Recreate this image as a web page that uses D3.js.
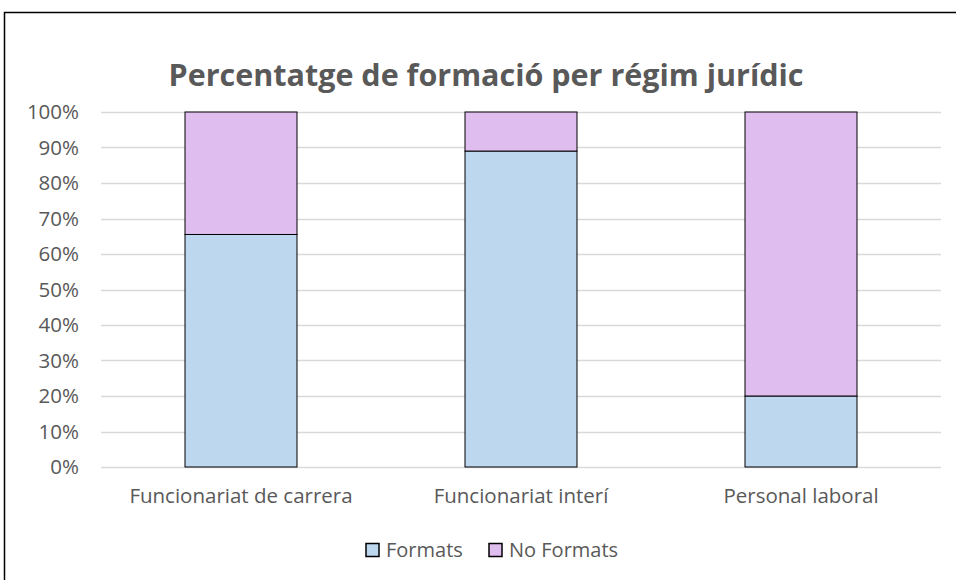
<!DOCTYPE html>
<html>
<head>
<meta charset="utf-8">
<script src="https://cdn.jsdelivr.net/npm/d3@7"></script>
<style>
  body { margin: 0; background: #fff; }
  text { font-family: "Open Sans", "Noto Sans", sans-serif; }
</style>
</head>
<body>
<div id="chart"></div>
<script>
// data
var categories = ["Funcionariat de carrera", "Funcionariat interí", "Personal laboral"];
var seriesNames = ["Formats", "No Formats"];
var formats = [0.655, 0.89, 0.20];
var noFormats = [0.345, 0.11, 0.80];
var yTicks = [0, 0.1, 0.2, 0.3, 0.4, 0.5, 0.6, 0.7, 0.8, 0.9, 1.0];

var colors = {"Formats": "#bdd7ee", "No Formats": "#e0bdef"};

var W = 956, H = 580;
var margin = {top: 112, right: 15, bottom: 113, left: 101};
var width = W - margin.left - margin.right;
var height = H - margin.top - margin.bottom;

var svg = d3.select("#chart")
            .append("svg")
              .attr("width", W)
              .attr("height", H);

// outer frame (only top and left edges visible in the picture)
svg.append("rect")
    .attr("x", 4.5)
    .attr("y", 12.5)
    .attr("width", W + 20)
    .attr("height", H + 20)
    .attr("fill", "none")
    .attr("stroke", "#000")
    .attr("stroke-width", 1.5);

svg.append("text")
    .attr("x", 486)
    .attr("y", 86)
    .attr("text-anchor", "middle")
    .attr("font-size", "30.5px")
    .attr("font-weight", "bold")
    .attr("fill", "#595959")
    .text("Percentatge de formació per régim jurídic");

var g = svg.append("g")
           .attr("transform", "translate(" + margin.left + "," + margin.top + ")");

var x = d3.scaleBand()
          .domain(categories)
          .range([0, width]);

var y = d3.scaleLinear()
          .domain([0, 1])
          .range([height, 0]);

// gridlines
g.selectAll(".grid")
  .data(yTicks)
  .enter()
  .append("line")
    .attr("x1", 0)
    .attr("x2", width)
    .attr("y1", function(d) { return Math.round(y(d)) + 0.5; })
    .attr("y2", function(d) { return Math.round(y(d)) + 0.5; })
    .attr("stroke", "#d9d9d9")
    .attr("stroke-width", 1.3);

// y axis labels
var yAxis = g.append("g")
             .call(d3.axisLeft(y).tickValues(yTicks).tickFormat(d3.format(".0%")).tickSize(0).tickPadding(22));
yAxis.select(".domain").remove();
yAxis.selectAll("text")
     .attr("font-family", "Open Sans")
     .attr("font-size", "20.5px")
     .attr("fill", "#595959");

// x axis labels
var xAxis = g.append("g")
             .attr("transform", "translate(0," + height + ")")
             .call(d3.axisBottom(x).tickSize(0).tickPadding(21));
xAxis.select(".domain").remove();
xAxis.selectAll("text")
     .attr("font-family", "Open Sans")
     .attr("font-size", "20.5px")
     .attr("fill", "#595959");

// stacked bars
var rows = categories.map(function(c, i) {
  return {cat: c, "Formats": formats[i], "No Formats": noFormats[i]};
});
var stacked = d3.stack().keys(seriesNames)(rows);
var barW = x.bandwidth() * 0.4;

var layers = g.selectAll(".layer")
              .data(stacked)
              .enter()
              .append("g")
                .attr("fill", function(d) { return colors[d.key]; });

layers.selectAll("rect")
      .data(function(d) { return d; })
      .enter()
      .append("rect")
        .attr("x", function(d) { return x(d.data.cat) + (x.bandwidth() - barW) / 2; })
        .attr("width", barW)
        .attr("y", function(d) { return y(d[1]); })
        .attr("height", function(d) { return y(d[0]) - y(d[1]); })
        .attr("stroke", "#000")
        .attr("stroke-width", 1);

// legend
var legend = svg.append("g")
                .attr("transform", "translate(366,550)");
var legX = [0, 123];
seriesNames.forEach(function(name, i) {
  var item = legend.append("g").attr("transform", "translate(" + legX[i] + ",0)");
  item.append("rect")
      .attr("x", 0)
      .attr("y", -6.5)
      .attr("width", 13)
      .attr("height", 13)
      .attr("fill", colors[name])
      .attr("stroke", "#000")
      .attr("stroke-width", 1.5);
  item.append("text")
      .attr("x", 20)
      .attr("y", 0)
      .attr("dy", "0.35em")
      .attr("font-size", "20px")
      .attr("fill", "#595959")
      .text(name);
});
</script>
</body>
</html>
